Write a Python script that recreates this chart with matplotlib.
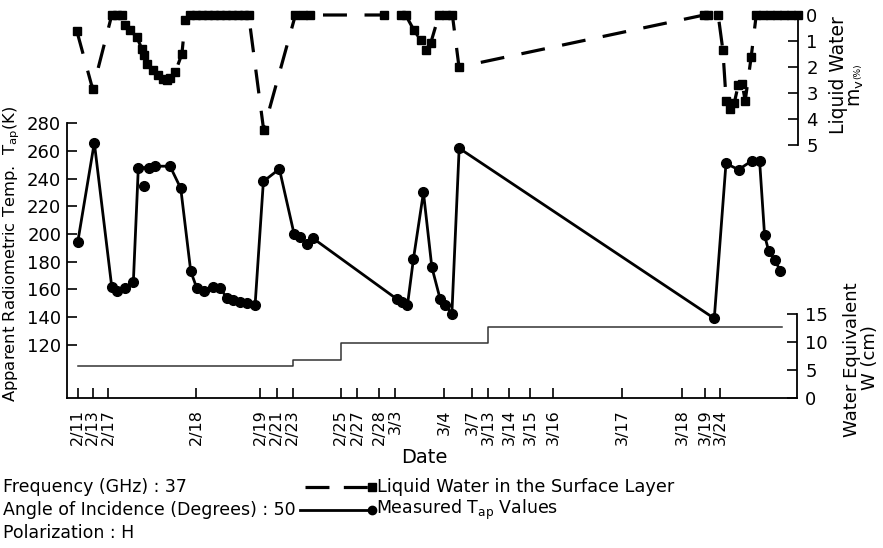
import numpy as np
import matplotlib.pyplot as plt
from matplotlib.lines import Line2D

plt.rcParams['font.family'] = ['DejaVu Sans']
plt.rcParams['mathtext.default'] = 'regular'

# date axis: position of each labelled date along the (non-uniform) time axis
date_pos = [11.0, 26.0, 41.6, 129.3, 193.6, 210.0, 226.0, 274.0, 290.3, 312.3,
            328.6, 377.3, 405.0, 421.6, 442.3, 463.3, 486.6, 555.0, 615.0,
            638.3, 653.3]
date_lbl = ['2/11', '2/13', '2/17', '2/18', '2/19', '2/21', '2/23', '2/25',
            '2/27', '2/28', '3/3', '3/4', '3/7', '3/13', '3/14', '3/15',
            '3/16', '3/17', '3/18', '3/19', '3/24']

# measured Tap (K)
tap_x = [11.0, 27.6, 45.0, 50.6, 58.3, 66.6, 71.6, 82.3, 88.6, 103.3, 114.0,
         124.0, 130.0, 137.3, 146.6, 153.3, 160.0, 166.6, 173.3, 180.0, 188.3,
         196.6, 212.6, 227.3, 233.3, 240.0, 246.0, 330.0, 335.6, 340.6, 346.6,
         356.6, 365.0, 373.3, 378.3, 385.0, 392.3, 647.3, 659.0, 671.6, 685.0,
         692.6, 697.6, 701.6, 708.3, 713.3]
tap_k = [194, 266, 162, 159, 161, 165, 248, 248, 249, 249, 233,
         173, 161, 159, 162, 161, 154, 152, 151, 150, 148.5,
         238, 247, 200, 197.5, 193, 197, 153, 151, 148.5, 182,
         230, 176, 153, 149, 142, 262, 139, 251, 246.5, 253,
         253, 199, 188, 181, 173]
tap_extra_x = [77.3]
tap_extra_k = [235]

# liquid water in the surface layer, mv (%)
lw_x = [10.0, 26.0, 45.0, 50.0, 55.0, 58.3, 63.3, 70.0, 75.0, 77.3, 80.6,
        86.6, 91.6, 96.3, 100.3, 103.3, 108.3, 115.0, 118.3, 123.3, 129.0,
        135.0, 141.0, 147.0, 153.0, 159.0, 165.0, 171.0, 177.0, 181.6, 196.6,
        228.3, 236.3, 243.3, 316.6, 333.3, 338.3, 346.6, 353.3, 358.3, 363.3,
        371.6, 378.3, 385.0, 391.6, 636.3, 640.3, 650.3, 655.0, 658.3, 662.3,
        666.3, 670.3, 674.3, 677.3, 683.3, 688.3, 695.0, 702.0, 709.0, 716.0,
        723.0, 730.0]
lw_mv = [0.6, 2.86, 0, 0, 0, 0.38, 0.58, 0.85, 1.3, 1.55, 1.9,
         2.1, 2.3, 2.45, 2.5, 2.43, 2.2, 1.5, 0.19, 0, 0,
         0, 0, 0, 0, 0, 0, 0, 0, 0, 4.42,
         0, 0, 0, 0, 0, 0, 0.58, 0.96, 1.35, 1.09,
         0, 0, 0, 2.0, 0, 0, 0, 1.35, 3.3, 3.6,
         3.4, 2.7, 2.65, 3.3, 1.6, 0, 0, 0, 0, 0,
         0, 0]

# snow water equivalent W (cm), step changes
w_x = [11.0, 226.0, 274.0, 421.6, 715.0]
w_cm = [5.8, 6.8, 9.8, 12.7, 12.7]

W, H = 883, 548
fig = plt.figure(figsize=(W / 100, H / 100), dpi=100)


def box(x0, y0, x1, y1):
    # pixel box -> figure fraction rect
    return [x0 / W, 1 - y1 / H, (x1 - x0) / W, (y1 - y0) / H]


FS = 13
ax_t = fig.add_axes(box(66.7, 123.3, 797, 398))
ax_lw = fig.add_axes(box(66.7, 15, 798, 145))
ax_w = fig.add_axes(box(66.7, 314, 797, 398))
for a in (ax_t, ax_lw, ax_w):
    a.patch.set_alpha(0)
    a.set_xlim(0, 730)
    for s in a.spines.values():
        s.set_linewidth(1.3)

# Tap axis
ax_t.plot(tap_x, tap_k, '-o', color='black', lw=2.0, ms=7, clip_on=False, zorder=5)
ax_t.plot(tap_extra_x, tap_extra_k, 'o', color='black', ms=7, clip_on=False, zorder=5)
ax_t.set_ylim(81.5, 280)
ax_t.set_yticks(range(120, 281, 20))
ax_t.spines['top'].set_visible(False)
ax_t.spines['right'].set_visible(False)
ax_t.spines['left'].set_bounds(81.5, 280)
ax_t.tick_params(axis='y', direction='in', length=7, width=1.2, labelsize=FS, pad=4)
ax_t.set_xticks(date_pos)
ax_t.set_xticklabels(date_lbl, rotation=90)
ax_t.tick_params(axis='x', direction='in', length=7, width=1.2, labelsize=11.5, pad=8)
ax_t.set_ylabel('Apparent Radiometric Temp.  T$_{ap}$(K)', fontsize=11.8)
ax_t.yaxis.set_label_coords(-0.061, 0.524)
ax_t.set_xlabel('Date', fontsize=14)
ax_t.xaxis.set_label_coords(0.489, -0.182)

# liquid water axis (top, inverted)
ax_lw.plot(lw_x, lw_mv, color='black', lw=2.3, ls=(0, (7.5, 5.5)),
           marker='s', ms=6, clip_on=False, zorder=5)
ax_lw.set_ylim(5, 0)
ax_lw.set_yticks(range(0, 6))
for s in ('top', 'left', 'bottom'):
    ax_lw.spines[s].set_visible(False)
ax_lw.yaxis.tick_right()
ax_lw.set_xticks([])
ax_lw.tick_params(axis='y', direction='in', length=7, width=1.2, labelsize=FS, pad=6)
fig.text(838 / W, 1 - 75 / H, 'Liquid Water', rotation=90, ha='center', va='center',
         fontsize=13.5)
fig.text(857 / W, 1 - 93 / H, 'm$_v$', rotation=90, ha='center', va='center', fontsize=13.5)
fig.text(858 / W, 1 - 71 / H, '(%)', rotation=90, ha='center', va='center', fontsize=6.5)

# water equivalent axis (bottom right)
ax_w.step(w_x, w_cm, where='post', color='#333333', lw=1.1, clip_on=False)
ax_w.set_ylim(0, 15)
ax_w.set_yticks([0, 5, 10, 15])
for s in ('top', 'left', 'bottom'):
    ax_w.spines[s].set_visible(False)
ax_w.yaxis.tick_right()
ax_w.set_xticks([])
ax_w.tick_params(axis='y', direction='in', length=7, width=1.2, labelsize=FS, pad=6)
fig.text(852 / W, 1 - 360 / H, 'Water Equivalent', rotation=90, ha='center', va='center',
         fontsize=13)
fig.text(870 / W, 1 - 358 / H, 'W (cm)', rotation=90, ha='center', va='center', fontsize=13)

# notes and legend
notes = ['Frequency (GHz) : 37', 'Angle of Incidence (Degrees) : 50', 'Polarization : H']
for i, t in enumerate(notes):
    fig.text(3 / W, 1 - (487 + 23 * i) / H, t, ha='left', va='center', fontsize=12.5)


def fx(px):
    return px / W


def fy(py):
    return 1 - py / H


fig.add_artist(Line2D([fx(305), fx(372)], [fy(487), fy(487)], color='black', lw=2.3,
                      ls=(0, (7.5, 4.5)), transform=fig.transFigure))
fig.add_artist(Line2D([fx(372)], [fy(487)], color='black', marker='s', ms=6,
                      transform=fig.transFigure))
fig.add_artist(Line2D([fx(300), fx(372)], [fy(510), fy(510)], color='black', lw=2.0,
                      transform=fig.transFigure))
fig.add_artist(Line2D([fx(372)], [fy(510)], color='black', marker='o', ms=6,
                      transform=fig.transFigure))
fig.text(fx(377), fy(487), 'Liquid Water in the Surface Layer', ha='left', va='center',
         fontsize=12.8)
fig.text(fx(376), fy(510), 'Measured T$_{ap}$ Values', ha='left', va='center', fontsize=12.5)

fig.savefig('out.png', dpi=100)
